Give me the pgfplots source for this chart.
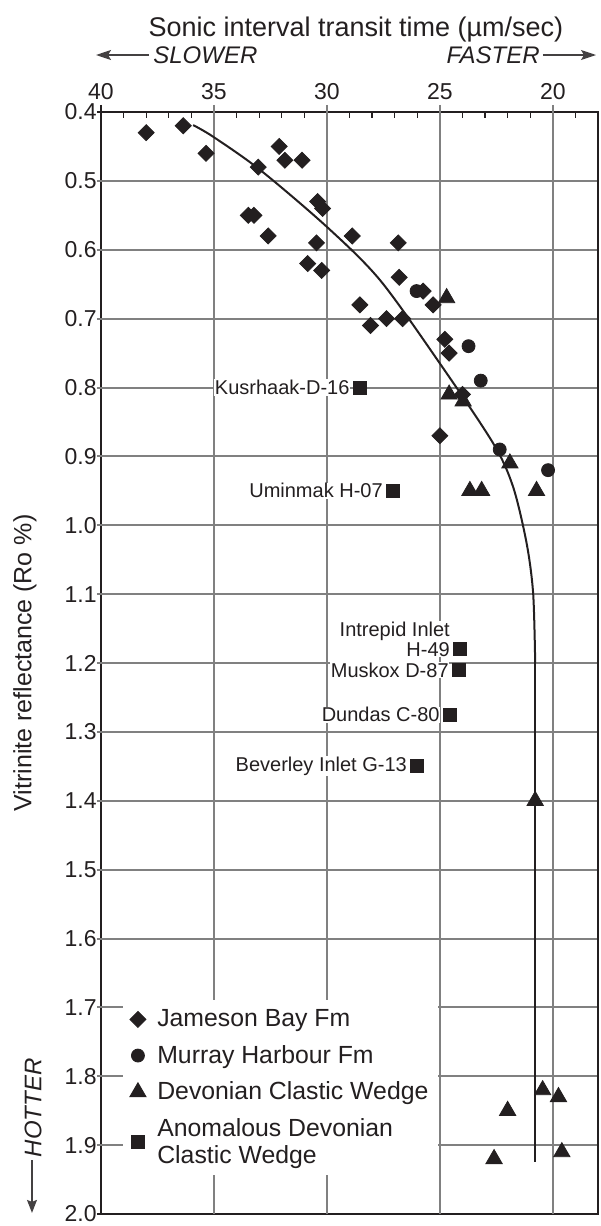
\documentclass[border=0pt]{standalone}
\usepackage{fontspec}
\setmainfont{Liberation Sans}
\usepackage{pgfplots}
\pgfplotsset{compat=1.18}
\usetikzlibrary{arrows.meta}

\definecolor{ink}{RGB}{35,31,32}

\pgfplotsset{
  pts/.style={only marks, draw=ink, fill=ink},
  gline/.style={forget plot, no marks, color=black!50, line width=1pt, unbounded coords=jump}
}
\tikzset{
  lbl/.style={anchor=east, font=\fontsize{10}{11}\selectfont, text=ink,
    fill=white, inner sep=0.4pt, xshift=-4.6pt}
}

\begin{document}
\begin{tikzpicture}
\useasboundingbox (-50.5pt,-6pt) rectangle (249.5pt,607pt);
\begin{axis}[
  scale only axis,
  width=248.5pt, height=551pt,
  at={(0pt,0pt)}, anchor=south west,
  x dir=reverse, y dir=reverse,
  xmin=18, xmax=40, ymin=0.4, ymax=2.0,
  xtick={20,25,30,35,40},
  ytick={0.4,0.5,0.6,0.7,0.8,0.9,1.0,1.1,1.2,1.3,1.4,1.5,1.6,1.7,1.8,1.9,2.0},
  xtick pos=right, ytick pos=left,
  xticklabel pos=right, yticklabel pos=left,
  major tick length=0pt,
  axis line style={draw=ink, line width=1.1pt},
  /pgf/number format/assume math mode=true,
  xticklabel style={font=\fontsize{11.5}{13}\selectfont, text=ink, inner sep=0pt, yshift=6pt},
  yticklabel style={font=\fontsize{11.5}{13}\selectfont, text=ink, inner sep=0pt, xshift=-2pt,
    /pgf/number format/fixed, /pgf/number format/fixed zerofill, /pgf/number format/precision=1},
  clip=false,
  legend style={at={(axis description cs:0.0443,0.1942)}, anchor=north west,
    draw=none, fill=white, font=\fontsize{12.4}{13.5}\selectfont, text=ink,
    inner xsep=3pt, inner ysep=2.5pt, row sep=3.8pt,
    cells={anchor=west, align=left}},
  legend cell align=left,
  legend image code/.code={\path[draw=none, fill=none] (0cm,0cm) -- (0.42cm,0cm);
    \draw[#1] plot coordinates {(0.15cm,0cm)};},
]

% grid lines (vertical ones poke out above the frame as major ticks)
\addplot[gline] coordinates {
  (20,0.3898) (20,2.0) (20,nan)
  (25,0.3898) (25,2.0) (25,nan)
  (30,0.3898) (30,2.0) (30,nan)
  (35,0.3898) (35,2.0)
};
\addplot[gline] coordinates {
  (40.18,0.5) (18,0.5) (18,nan)
  (40.18,0.6) (18,0.6) (18,nan)
  (40.18,0.7) (18,0.7) (18,nan)
  (40.18,0.8) (18,0.8) (18,nan)
  (40.18,0.9) (18,0.9) (18,nan)
  (40.18,1.0) (18,1.0) (18,nan)
  (40.18,1.1) (18,1.1) (18,nan)
  (40.18,1.2) (18,1.2) (18,nan)
  (40.18,1.3) (18,1.3) (18,nan)
  (40.18,1.4) (18,1.4) (18,nan)
  (40.18,1.5) (18,1.5) (18,nan)
  (40.18,1.6) (18,1.6) (18,nan)
  (40.18,1.7) (18,1.7) (18,nan)
  (40.18,1.8) (18,1.8) (18,nan)
  (40.18,1.9) (18,1.9)
};
% minor ticks inside the top edge, stubs at the corners, right frame
\addplot[forget plot, no marks, color=ink, line width=0.6pt, unbounded coords=jump] coordinates {
  (19,0.4) (19,0.408) (19,nan) (21,0.4) (21,0.408) (21,nan)
  (22,0.4) (22,0.408) (22,nan) (23,0.4) (23,0.408) (23,nan)
  (24,0.4) (24,0.408) (24,nan) (26,0.4) (26,0.408) (26,nan)
  (27,0.4) (27,0.408) (27,nan) (28,0.4) (28,0.408) (28,nan)
  (29,0.4) (29,0.408) (29,nan) (31,0.4) (31,0.408) (31,nan)
  (32,0.4) (32,0.408) (32,nan) (33,0.4) (33,0.408) (33,nan)
  (34,0.4) (34,0.408) (34,nan) (36,0.4) (36,0.408) (36,nan)
  (37,0.4) (37,0.408) (37,nan) (38,0.4) (38,0.408) (38,nan)
  (39,0.4) (39,0.408) (39,nan)
  (40,0.3898) (40,0.4) (40,nan)
  (40.18,0.4) (40,0.4) (40,nan)
  (40.18,2.0) (40,2.0)
};
\addplot[forget plot, no marks, color=ink, line width=1.1pt] coordinates {
  (18,0.4) (18,2.0)
};

% Jameson Bay Fm
\addplot[pts, mark=square*, mark size=2.83pt, mark options={rotate=45}] coordinates {
  (38.0,0.43) (36.36,0.42) (35.35,0.46) (33.04,0.48) (32.11,0.45) (31.86,0.47)
  (31.1,0.47) (33.48,0.55) (33.23,0.55) (32.6,0.58) (30.41,0.53) (30.19,0.54)
  (30.46,0.59) (28.88,0.58) (26.84,0.59) (30.85,0.62) (30.23,0.63) (26.8,0.64)
  (25.74,0.66) (25.3,0.68) (28.54,0.68) (28.07,0.71) (27.36,0.70) (26.65,0.70)
  (24.78,0.73) (24.59,0.75) (24.0,0.81) (25.0,0.87)
};
\addlegendentry{Jameson Bay Fm}

% Murray Harbour Fm
\addplot[pts, mark=*, mark size=3.25pt] coordinates {
  (26.03,0.66) (23.73,0.74) (23.19,0.79) (22.35,0.89) (20.21,0.92)
};
\addlegendentry{Murray Harbour Fm}

% Devonian Clastic Wedge
\addplot[pts, mark=triangle*, mark size=4.7pt] coordinates {
  (24.7,0.67) (24.59,0.81) (23.97,0.82) (21.9,0.91) (23.67,0.95) (23.15,0.95)
  (20.72,0.95) (20.78,1.40) (20.45,1.82) (19.75,1.83) (22.0,1.85) (22.6,1.92)
  (19.6,1.91)
};
\addlegendentry{Devonian Clastic Wedge}

% Anomalous Devonian Clastic Wedge
\addplot[pts, mark=square*, mark size=3.25pt] coordinates {
  (28.54,0.80) (27.07,0.95) (24.1,1.18) (24.15,1.21) (24.55,1.275) (26.0,1.35)
};
\addlegendentry{Anomalous Devonian\\Clastic Wedge}

% trend
\addplot[ink, line width=1pt, smooth, forget plot] coordinates {
  (35.92,0.419) (35.03,0.436) (32.96,0.484) (30.01,0.5665) (27.65,0.644)
  (25.0,0.765) (22.64,0.881) (21.76,0.944) (21.16,1.026) (20.87,1.099)
  (20.78,1.20)
};
\addplot[ink, line width=1pt, forget plot] coordinates {
  (20.78,1.20) (20.78,1.924)
};

\node[lbl] at (axis cs:28.54,0.80) {Kusrhaak-D-16};
\node[lbl] at (axis cs:27.07,0.95) {Uminmak H-07};
\node[lbl] at (axis cs:24.1,1.18) {H-49};
\node[lbl, yshift=9pt] at (axis cs:24.1,1.18) {Intrepid Inlet};
\node[lbl] at (axis cs:24.15,1.21) {Muskox D-87};
\node[lbl] at (axis cs:24.55,1.275) {Dundas C-80};
\node[lbl] at (axis cs:26.0,1.35) {Beverley Inlet G-13};

% outside annotations
\node[anchor=base, font=\fontsize{13.5}{15}\selectfont, text=ink]
  at ([yshift=38pt]axis description cs:0.513,1) {Sonic interval transit time (µm/sec)};
\node[anchor=base west, font=\fontsize{12}{13}\itshape, text=ink, inner sep=0pt]
  at ([yshift=24.5pt]axis description cs:0.1046,1) {SLOWER};
\draw[ink!85, line width=0.6pt, -{Stealth[length=7.5pt, width=5pt, inset=1.5pt]}]
  ([yshift=28.5pt]axis description cs:0.0966,1) -- ([yshift=28.5pt]axis description cs:-0.01,1);
\node[anchor=base east, font=\fontsize{12}{13}\itshape, text=ink, inner sep=0pt]
  at ([yshift=24.5pt]axis description cs:0.8833,1) {FASTER};
\draw[ink!85, line width=0.6pt, -{Stealth[length=7.5pt, width=5pt, inset=1.5pt]}]
  ([yshift=28.5pt]axis description cs:0.889,1) -- ([yshift=28.5pt]axis description cs:0.996,1);
\node[rotate=90, font=\fontsize{12.5}{14}\selectfont, text=ink]
  at ([xshift=-38pt]axis description cs:0,0.5) {Vitrinite reflectance (Ro \%)};
\node[rotate=90, font=\fontsize{12}{13}\itshape, text=ink]
  at ([xshift=-34pt]axis description cs:0,0.0962) {HOTTER};
\draw[ink!85, line width=0.6pt, -{Stealth[length=6.5pt, width=5pt, inset=1pt]}]
  ([xshift=-34.5pt]axis description cs:0,0.049) -- ([xshift=-34.5pt]axis description cs:0,0.001);

\end{axis}
\end{tikzpicture}
\end{document}
